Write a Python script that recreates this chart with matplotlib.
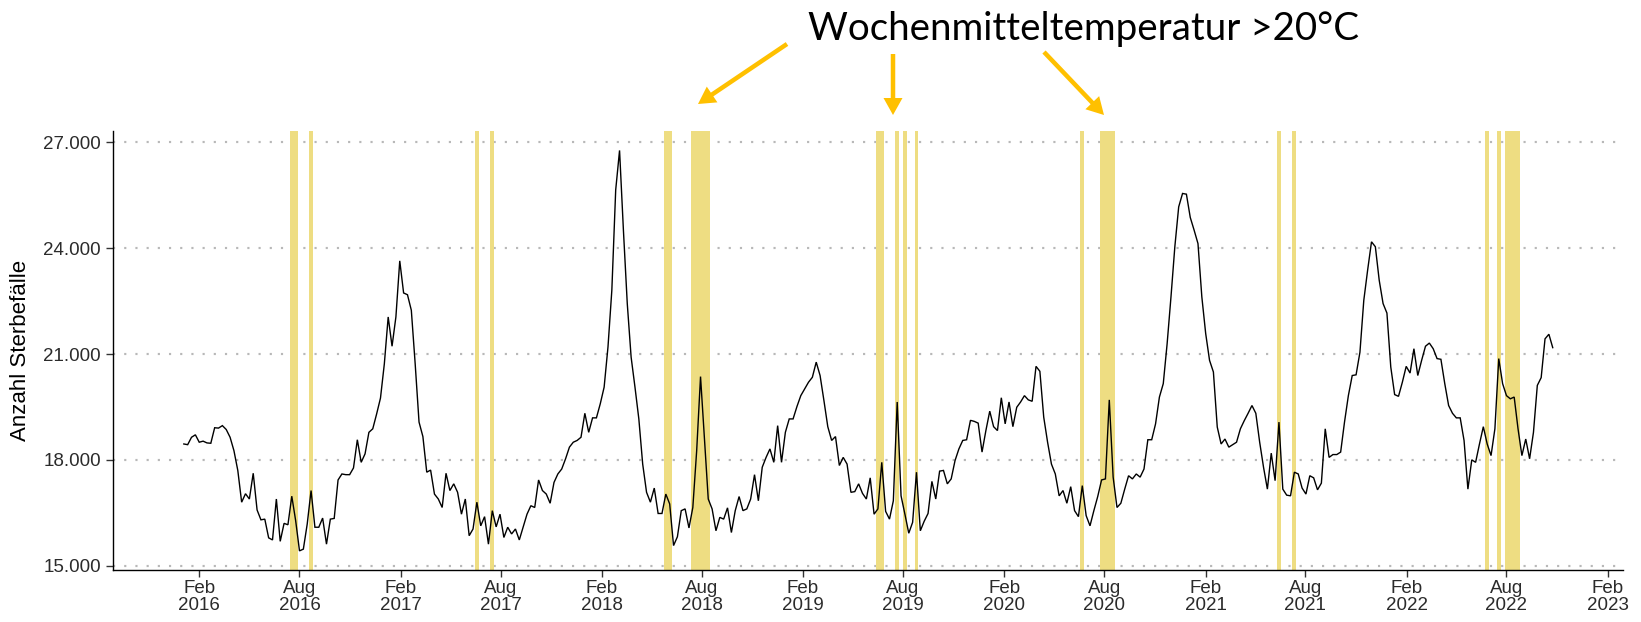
import numpy as np
import pandas as pd
import matplotlib
matplotlib.use('Agg')
import matplotlib.pyplot as plt
from matplotlib.patches import FancyArrow
from matplotlib.transforms import IdentityTransform
from matplotlib.ticker import FuncFormatter

# ---------------- data (weekly deaths, Germany) ----------------
start_date = '2016-01-04'   # first weekly value (Monday)

deaths_2016 = [18450, 18430, 18640, 18710, 18500, 18530, 18480, 18470, 18910, 18900,
               18970, 18860, 18640, 18260, 17700, 16800, 17040, 16890, 17620, 16580,
               16300, 16320, 15790, 15730, 16890, 15690, 16200, 16160, 16970, 16280,
               15420, 15470, 16180, 17130, 16090, 16090, 16350, 15610, 16320, 16340,
               17430, 17600, 17580, 17580, 17770, 18570, 17930, 18170, 18780, 18880,
               19300, 19750]
deaths_2017 = [20720, 22050, 21220, 22050, 23640, 22730, 22680, 22240, 20720, 19070,
               18660, 17650, 17710, 17030, 16890, 16650, 17620, 17130, 17320, 17080,
               16460, 16890, 15850, 16040, 16800, 16130, 16390, 15610, 16560, 16100,
               16460, 15800, 16090, 15900, 16040, 15730, 16090, 16460, 16700, 16650,
               17430, 17130, 17030, 16770, 17360, 17600, 17740, 18030, 18360, 18500,
               18550, 18640]
deaths_2018 = [19320, 18780, 19190, 19190, 19590, 20060, 21200, 22810, 25650, 26770,
               24510, 22430, 20910, 20060, 19160, 17880, 17080, 16800, 17200, 16480,
               16480, 17030, 16750, 15570, 15820, 16560, 16610, 16070, 16650, 18260,
               20360, 18640, 16890, 16610, 15990, 16370, 16320, 16640, 15940, 16560,
               16960, 16560, 16610, 16890, 17580, 16840, 17790, 18070, 18310, 17930,
               18970, 17930]
deaths_2019 = [18780, 19160, 19160, 19510, 19820, 20010, 20200, 20340, 20770, 20390,
               19680, 18940, 18550, 18660, 17840, 18070, 17880, 17080, 17100, 17320,
               17050, 16890, 17490, 16460, 16610, 17930, 16540, 16320, 16840, 19640,
               16980, 16460, 15920, 16230, 17650, 15990, 16260, 16480, 17390, 16890,
               17680, 17700, 17320, 17460, 17980, 18310, 18550, 18570, 19120, 19090,
               19040, 18220]
deaths_2020 = [18830, 19380, 18940, 18830, 19760, 19020, 19640, 18940, 19490, 19640,
               19820, 19700, 19660, 20650, 20510, 19210, 18500, 17880, 17600, 16980,
               17130, 16770, 17240, 16560, 16390, 17270, 16420, 16130, 16560, 16960,
               17430, 17460, 19700, 17510, 16650, 16770, 17170, 17550, 17460, 17600,
               17510, 17740, 18570, 18570, 19020, 19780, 20160, 21290, 22620, 24040,
               25170, 25550, 25530]
deaths_2021 = [24870, 24510, 24130, 22620, 21580, 20820, 20490, 18930, 18450, 18590,
               18360, 18430, 18500, 18880, 19110, 19320, 19540, 19320, 18500, 17790,
               17170, 18190, 17410, 19070, 17170, 17000, 16980, 17650, 17600, 17200,
               17030, 17550, 17490, 17150, 17340, 18880, 18070, 18150, 18150, 18220,
               19070, 19820, 20390, 20410, 21050, 22520, 23380, 24180, 24040, 23090,
               22430, 22160]
deaths_2022 = [20630, 19850, 19800, 20200, 20650, 20460, 21150, 20390, 20820, 21220,
               21310, 21150, 20870, 20850, 20160, 19540, 19320, 19190, 19190, 18550,
               17170, 18000, 17930, 18450, 18940, 18450, 18120, 18880, 20870, 20160,
               19820, 19730, 19780, 18880, 18120, 18590, 18030, 18780, 20110, 20330,
               21430, 21560, 21180]

# weeks with mean temperature > 20 °C (Monday of the week)
hot_weeks = ['2016-07-18', '2016-07-25', '2016-08-22',
             '2017-06-19', '2017-07-17',
             '2018-05-28', '2018-06-04', '2018-07-16', '2018-07-23', '2018-07-30',
             '2018-08-06', '2018-08-13',
             '2019-06-17', '2019-06-24', '2019-07-22', '2019-08-05', '2019-08-26',
             '2020-06-22', '2020-07-27', '2020-08-03', '2020-08-10', '2020-08-17',
             '2021-06-14', '2021-07-12',
             '2022-06-27', '2022-07-18', '2022-08-01', '2022-08-08', '2022-08-15',
             '2022-08-22']

y_ticks = [15000, 18000, 21000, 24000, 27000]
x_tick_dates = ['2016-02-01', '2016-08-01', '2017-02-01', '2017-08-01',
                '2018-02-01', '2018-08-01', '2019-02-01', '2019-08-01',
                '2020-02-01', '2020-08-01', '2021-02-01', '2021-08-01',
                '2022-02-01', '2022-08-01', '2023-02-01']
x_tick_labels = ['Feb\n2016', 'Aug\n2016', 'Feb\n2017', 'Aug\n2017',
                 'Feb\n2018', 'Aug\n2018', 'Feb\n2019', 'Aug\n2019',
                 'Feb\n2020', 'Aug\n2020', 'Feb\n2021', 'Aug\n2021',
                 'Feb\n2022', 'Aug\n2022', 'Feb\n2023']
y_label = 'Anzahl Sterbefälle'
title_text = 'Wochenmitteltemperatur >20°C'

# ---------------- figure ----------------
deaths = np.concatenate([deaths_2016, deaths_2017, deaths_2018, deaths_2019,
                         deaths_2020, deaths_2021, deaths_2022])
dates = pd.date_range(start_date, periods=len(deaths), freq='7D')

W, H = 1641, 622
fig = plt.figure(figsize=(W / 100, H / 100), dpi=100)
ax_l, ax_r, ax_t, ax_b = 113.3, 1622.7, 130.7, 570.0
ax = fig.add_axes([ax_l / W, 1 - ax_b / H, (ax_r - ax_l) / W, (ax_b - ax_t) / H])

font = 'Liberation Sans'

# hot-week bands (merge consecutive weeks)
hot = sorted(pd.to_datetime(hot_weeks))
runs = []
for t in hot:
    if runs and (t - runs[-1][1]).days == 7:
        runs[-1][1] = t
    else:
        runs.append([t, t])
half = pd.Timedelta(days=3.5)
for a, b in runs:
    ax.axvspan(a - half, b + half, facecolor='#EEDD82', edgecolor='none', zorder=1)

ax.plot(dates, deaths, color='black', lw=1.0, zorder=3, solid_joinstyle='miter')

ax.set_xlim(pd.Timestamp('2015-08-29'), pd.Timestamp('2023-02-28'))
ax.set_ylim(14878, 27329)

ax.set_yticks(y_ticks)
ax.yaxis.set_major_formatter(FuncFormatter(lambda v, p: f'{v:,.0f}'.replace(',', '.')))
ax.set_xticks(pd.to_datetime(x_tick_dates))
ax.set_xticklabels(x_tick_labels)

ax.yaxis.grid(True, linestyle=(0, (1, 4.2)), linewidth=1.55, color='#B8B8B8')
ax.xaxis.grid(False)
ax.set_axisbelow(True)

for s in ['top', 'right']:
    ax.spines[s].set_visible(False)
for s in ['left', 'bottom']:
    ax.spines[s].set_linewidth(1.0)
    ax.spines[s].set_color('black')

ax.tick_params(axis='both', direction='out', length=4.7, width=1.0, color='#333333',
               labelsize=13.5, labelcolor='#2b2b2b')
ax.tick_params(axis='y', pad=4.3)
ax.tick_params(axis='x', pad=2.5)
for lbl in ax.get_xticklabels() + ax.get_yticklabels():
    lbl.set_family(font)
for lbl in ax.get_xticklabels():
    lbl.set_linespacing(0.98)

fig.text(21 / W, 1 - 350 / H, y_label, rotation=90, ha='center', va='center',
         fontsize=16, family=font, color='black')

# annotation text + arrows
txt = fig.text(1084 / W, 1 - 40 / H, title_text, ha='center', va='baseline',
               fontsize=30, family='Lato', color='black')
fig.canvas.draw()
bw = txt.get_window_extent().width
txt.set_fontsize(30 * 550 / bw)

arrows = [((787, 44), (698, 104)),
          ((893, 54), (893, 115)),
          ((1044, 52), (1104, 115))]
for (x0, y0), (x1, y1) in arrows:
    X0, Y0, X1, Y1 = x0, H - y0, x1, H - y1
    fig.add_artist(FancyArrow(X0, Y0, X1 - X0, Y1 - Y0, width=4.5, head_width=19,
                              head_length=17, length_includes_head=True,
                              color='#FFC000', lw=0, transform=IdentityTransform()))

fig.savefig('out.png', dpi=100)
